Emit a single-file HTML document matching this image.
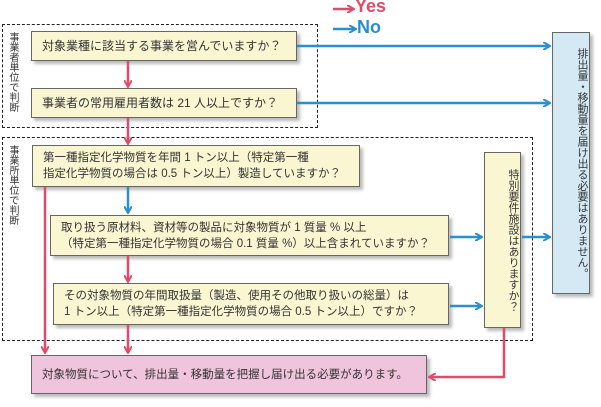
<!DOCTYPE html><html><head><meta charset="utf-8"><style>
body{margin:0;width:601px;height:407px;background:#fff;position:relative;overflow:hidden;font-family:"Liberation Sans","Noto Sans CJK JP",sans-serif;color:#333}
.n{position:absolute;background:#fbf6d2;border:1px solid #666;box-shadow:3px 3px 3px #bbb;font-size:11.5px;line-height:16px;box-sizing:border-box;padding:0 10px;display:flex;flex-direction:column;justify-content:center}
.v{position:absolute;writing-mode:vertical-rl;font-size:11px;line-height:14px;box-sizing:border-box;display:flex;align-items:center}
.d{position:absolute;border:1.5px dashed #222}
.lbl{position:absolute;writing-mode:vertical-rl;font-size:10px;line-height:11px}
svg{position:absolute;left:0;top:0}
</style></head><body>
<div class="d" style="left:2px;top:24px;width:314px;height:102px"></div>
<div class="d" style="left:2px;top:137px;width:529px;height:202px"></div>
<div class="lbl" style="left:7px;top:32px">事業者単位で判断</div>
<div class="lbl" style="left:7px;top:145px">事業所単位で判断</div>
<div class="n" style="left:31px;top:31px;width:266px;height:30px;font-size:12px">対象業種に該当する事業を営んでいますか？</div>
<div class="n" style="left:31px;top:88px;width:266px;height:30px;font-size:12px">事業者の常用雇用者数は 21 人以上ですか？</div>
<div class="n" style="left:32px;top:145px;width:328px;height:42px">第一種指定化学物質を年間 1 トン以上（特定第一種<br>指定化学物質の場合は 0.5 トン以上）製造していますか？</div>
<div class="n" style="left:50px;top:215px;width:399px;height:41px">取り扱う原材料、資材等の製品に対象物質が 1 質量 % 以上<br>（特定第一種指定化学物質の場合 0.1 質量 %）以上含まれていますか？</div>
<div class="n" style="left:53px;top:283px;width:396px;height:42px">その対象物質の年間取扱量（製造、使用その他取り扱いの総量）は<br>1 トン以上（特定第一種指定化学物質の場合 0.5 トン以上）ですか？</div>
<div class="n" style="left:31px;top:355px;width:396px;height:39px;background:#f0c4dc">対象物質について、排出量・移動量を把握し届け出る必要があります。</div>
<div class="n v" style="left:484px;top:152px;width:37px;height:176px;padding:10px 0;justify-content:flex-start">特別要件施設はありますか？</div>
<div class="n v" style="left:552px;top:32px;width:38px;height:262px;background:#d5e9f5;padding:6px 0;justify-content:flex-start">排出量・移動量を届け出る必要はありません。</div>
<div style="position:absolute;left:355px;top:-4px;font-size:18px;font-weight:bold;color:#e24a6a">Yes</div>
<div style="position:absolute;left:357px;top:17px;font-size:18px;font-weight:bold;color:#2a8fcf">No</div>
<svg width="601" height="407">
<defs>
<marker id="r" markerWidth="8" markerHeight="8" refX="6" refY="4" orient="auto" markerUnits="userSpaceOnUse"><path d="M0,0L7,4L0,8" fill="none" stroke="#e24a6a" stroke-width="2"/></marker>
<marker id="b" markerWidth="8" markerHeight="8" refX="6" refY="4" orient="auto" markerUnits="userSpaceOnUse"><path d="M0,0L7,4L0,8" fill="none" stroke="#2a8fcf" stroke-width="2"/></marker>
</defs>
<g stroke="#e24a6a" stroke-width="2.5" fill="none" marker-end="url(#r)">
<line x1="333" y1="9" x2="353" y2="9"/>
<line x1="128" y1="61" x2="128" y2="86"/>
<line x1="128" y1="118" x2="128" y2="143"/>
<line x1="45" y1="187" x2="45" y2="352"/>
<line x1="128" y1="256" x2="128" y2="281"/>
<line x1="128" y1="325" x2="128" y2="352"/>
<polyline points="504,328 504,377 430,377"/>
</g>
<g stroke="#2a8fcf" stroke-width="2.5" fill="none" marker-end="url(#b)">
<line x1="333" y1="29" x2="355" y2="29"/>
<line x1="297" y1="46" x2="549" y2="46"/>
<line x1="297" y1="103" x2="549" y2="103"/>
<line x1="128" y1="187" x2="128" y2="212"/>
<line x1="450" y1="237" x2="481" y2="237"/>
<line x1="450" y1="306" x2="481" y2="306"/>
<line x1="522" y1="237" x2="549" y2="237"/>
</g>
</svg>
</body></html>
